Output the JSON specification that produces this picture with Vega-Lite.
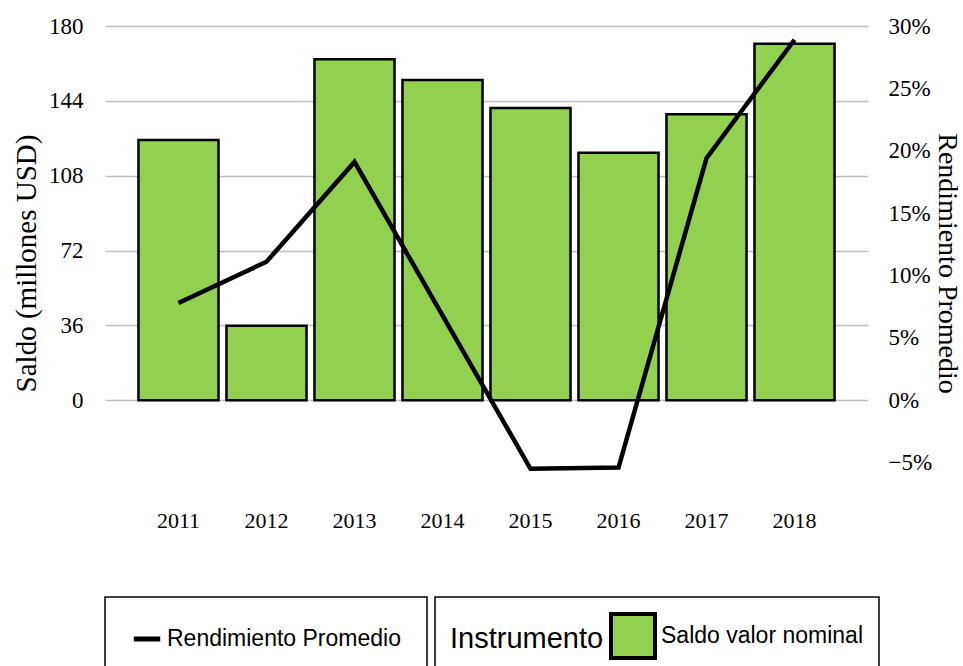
{
  "$schema": "https://vega.github.io/schema/vega-lite/v6.json",
  "autosize": "none",
  "width": 763,
  "height": 474,
  "padding": {"left": 105, "top": 26, "right": 95, "bottom": 166},
  "background": "white",
  "data": {
    "values": [
      {"anio": "2011", "saldo": 125.2, "rend": 0.078, "s1": "Saldo valor nominal", "s2": "Rendimiento Promedio"},
      {"anio": "2012", "saldo": 35.8, "rend": 0.111, "s1": "Saldo valor nominal", "s2": "Rendimiento Promedio"},
      {"anio": "2013", "saldo": 164, "rend": 0.191, "s1": "Saldo valor nominal", "s2": "Rendimiento Promedio"},
      {"anio": "2014", "saldo": 154, "rend": 0.068, "s1": "Saldo valor nominal", "s2": "Rendimiento Promedio"},
      {"anio": "2015", "saldo": 140.5, "rend": -0.055, "s1": "Saldo valor nominal", "s2": "Rendimiento Promedio"},
      {"anio": "2016", "saldo": 119, "rend": -0.054, "s1": "Saldo valor nominal", "s2": "Rendimiento Promedio"},
      {"anio": "2017", "saldo": 137.5, "rend": 0.194, "s1": "Saldo valor nominal", "s2": "Rendimiento Promedio"},
      {"anio": "2018", "saldo": 171.5, "rend": 0.289, "s1": "Saldo valor nominal", "s2": "Rendimiento Promedio"}
    ]
  },
  "encoding": {
    "x": {
      "field": "anio", "type": "ordinal",
      "scale": {"paddingInner": 0.09, "paddingOuter": 0.38},
      "axis": {"title": null, "labelAngle": 0, "domain": false, "ticks": false, "labelPadding": 10, "labelFont": "Liberation Serif", "labelFontSize": 22, "labelColor": "black"}
    }
  },
  "layer": [
    {
      "mark": {"type": "line", "strokeWidth": 4.5, "strokeOpacity": 0},
      "encoding": {
        "y": {
          "field": "rend", "type": "quantitative",
          "scale": {"domain": [-0.08, 0.30], "nice": false},
          "axis": {"title": "Rendimiento Promedio", "orient": "right", "format": ".0%", "values": [-0.05, 0, 0.05, 0.1, 0.15, 0.2, 0.25, 0.3], "grid": false, "domain": false, "ticks": false, "labelPadding": 20, "labelFont": "Liberation Serif", "labelFontSize": 23, "labelColor": "black", "titleFont": "Liberation Serif", "titleFontSize": 28, "titleFontWeight": "normal", "titleColor": "black", "titlePadding": 1}
        },
        "color": {
          "field": "s2", "type": "nominal",
          "scale": {"range": ["black"]},
          "legend": {"title": null, "symbolType": "stroke", "symbolStrokeWidth": 5, "symbolSize": 700, "symbolOpacity": 1, "symbolStrokeColor": "black", "padding": 26}
        }
      }
    },
    {
      "mark": {"type": "bar", "stroke": "black", "strokeWidth": 2.5},
      "encoding": {
        "y": {
          "field": "saldo", "type": "quantitative",
          "scale": {"domain": [-48, 180], "nice": false},
          "axis": {"title": "Saldo (millones USD)", "orient": "left", "values": [0, 36, 72, 108, 144, 180], "grid": true, "gridColor": "#bfbfbf", "gridWidth": 1.5, "domain": false, "ticks": false, "labelPadding": 22, "labelFont": "Liberation Serif", "labelFontSize": 23, "labelColor": "black", "titleFont": "Liberation Serif", "titleFontSize": 29, "titleFontWeight": "normal", "titleColor": "black", "titlePadding": 7}
        },
        "fill": {
          "field": "s1", "type": "nominal",
          "scale": {"range": ["#92D050"]},
          "legend": {"title": "Instrumento", "titleOrient": "left", "symbolType": "square", "symbolSize": 1936, "symbolStrokeColor": "black", "symbolStrokeWidth": 4, "symbolOpacity": 1, "padding": 15}
        }
      }
    },
    {
      "mark": {"type": "line", "strokeWidth": 4.5, "color": "black"},
      "encoding": {
        "y": {
          "field": "rend", "type": "quantitative",
          "scale": {"domain": [-0.08, 0.30], "nice": false},
          "axis": null
        }
      }
    }
  ],
  "resolve": {"scale": {"y": "independent"}},
  "config": {
    "view": {"stroke": null},
    "legend": {
      "orient": "bottom",
      "direction": "horizontal",
      "offset": 66,
      "labelFont": "Liberation Sans",
      "labelFontSize": 23,
      "labelColor": "black",
      "titleFont": "Liberation Sans",
      "titleFontSize": 29,
      "titleFontWeight": "normal",
      "titleColor": "black",
      "strokeColor": "black",
      "strokeWidth": 1.5,
      "labelLimit": 400
    }
  }
}
